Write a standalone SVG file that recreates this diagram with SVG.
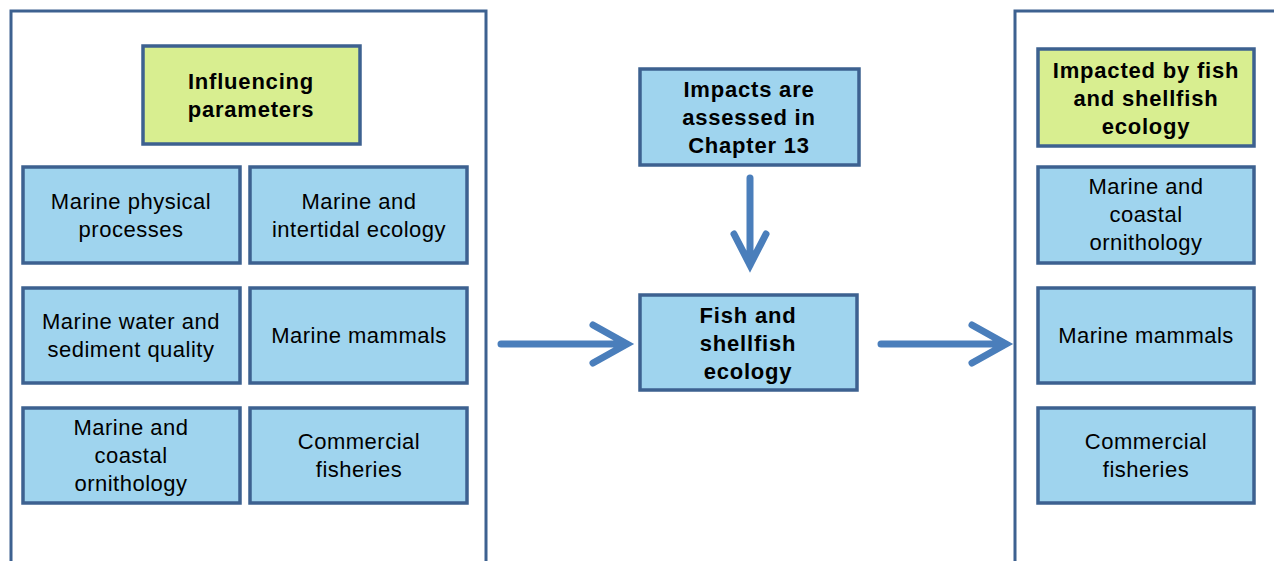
<svg xmlns="http://www.w3.org/2000/svg" width="1274" height="561" viewBox="0 0 1274 561">
<style>
.panel{fill:#fff;stroke:#3d6190;stroke-width:3}
.b{fill:#9fd4ee;stroke:#3d6190;stroke-width:3.5}
.g{fill:#d8ee90;stroke:#3d6190;stroke-width:3.5}
text{font-family:"Liberation Sans",Arial,sans-serif;font-size:22px;letter-spacing:0.5px;fill:#000;text-anchor:middle}
.bold{font-weight:bold;letter-spacing:0.8px}
.arr{fill:none;stroke:#4a7ebb;stroke-width:7;stroke-linecap:round;stroke-linejoin:miter}
</style>
<rect width="1274" height="561" fill="#fff"/>
<g id="left-panel"><path class="panel" d="M11 565 V11 H486 V565"/></g>
<g id="right-panel"><path class="panel" d="M1015 565 V11 H1280"/></g>
<g id="influencing"><rect class="g" x="143" y="46" width="217" height="98"/><text class="bold" x="251" y="89">Influencing</text><text class="bold" x="251" y="117">parameters</text></g>
<g id="physical"><rect class="b" x="23" y="167" width="217" height="96"/><text x="131" y="209">Marine physical</text><text x="131" y="237">processes</text></g>
<g id="intertidal"><rect class="b" x="250" y="167" width="217" height="96"/><text x="359" y="209">Marine and</text><text x="359" y="237">intertidal ecology</text></g>
<g id="water"><rect class="b" x="23" y="288" width="217" height="95"/><text x="131" y="329">Marine water and</text><text x="131" y="357">sediment quality</text></g>
<g id="mammals-l"><rect class="b" x="250" y="288" width="217" height="95"/><text x="359" y="343">Marine mammals</text></g>
<g id="ornith-l"><rect class="b" x="23" y="408" width="217" height="95"/><text x="131" y="435">Marine and</text><text x="131" y="463">coastal</text><text x="131" y="491">ornithology</text></g>
<g id="fisheries-l"><rect class="b" x="250" y="408" width="217" height="95"/><text x="359" y="449">Commercial</text><text x="359" y="477">fisheries</text></g>
<g id="impacts"><rect class="b" x="640" y="69" width="219" height="96"/><text class="bold" x="749" y="97">Impacts are</text><text class="bold" x="749" y="125">assessed in</text><text class="bold" x="749" y="153">Chapter 13</text></g>
<g id="fish"><rect class="b" x="640" y="295" width="217" height="95"/><text class="bold" x="748" y="323">Fish and</text><text class="bold" x="748" y="351">shellfish</text><text class="bold" x="748" y="379">ecology</text></g>
<g id="impacted"><rect class="g" x="1038" y="49" width="216" height="97"/><text class="bold" x="1146" y="78">Impacted by fish</text><text class="bold" x="1146" y="106">and shellfish</text><text class="bold" x="1146" y="134">ecology</text></g>
<g id="ornith-r"><rect class="b" x="1038" y="167" width="216" height="96"/><text x="1146" y="194">Marine and</text><text x="1146" y="222">coastal</text><text x="1146" y="250">ornithology</text></g>
<g id="mammals-r"><rect class="b" x="1038" y="288" width="216" height="95"/><text x="1146" y="343">Marine mammals</text></g>
<g id="fisheries-r"><rect class="b" x="1038" y="408" width="216" height="95"/><text x="1146" y="449">Commercial</text><text x="1146" y="477">fisheries</text></g>
<g id="connectors">
<path class="arr" d="M750 178 V265 M734 234 L750 265 L766 234" />
<path class="arr" d="M501 344 H625 M593 325 L627 344 L593 363" />
<path class="arr" d="M881 344 H1004 M972 325 L1006 344 L972 363" />
</g>
</svg>
